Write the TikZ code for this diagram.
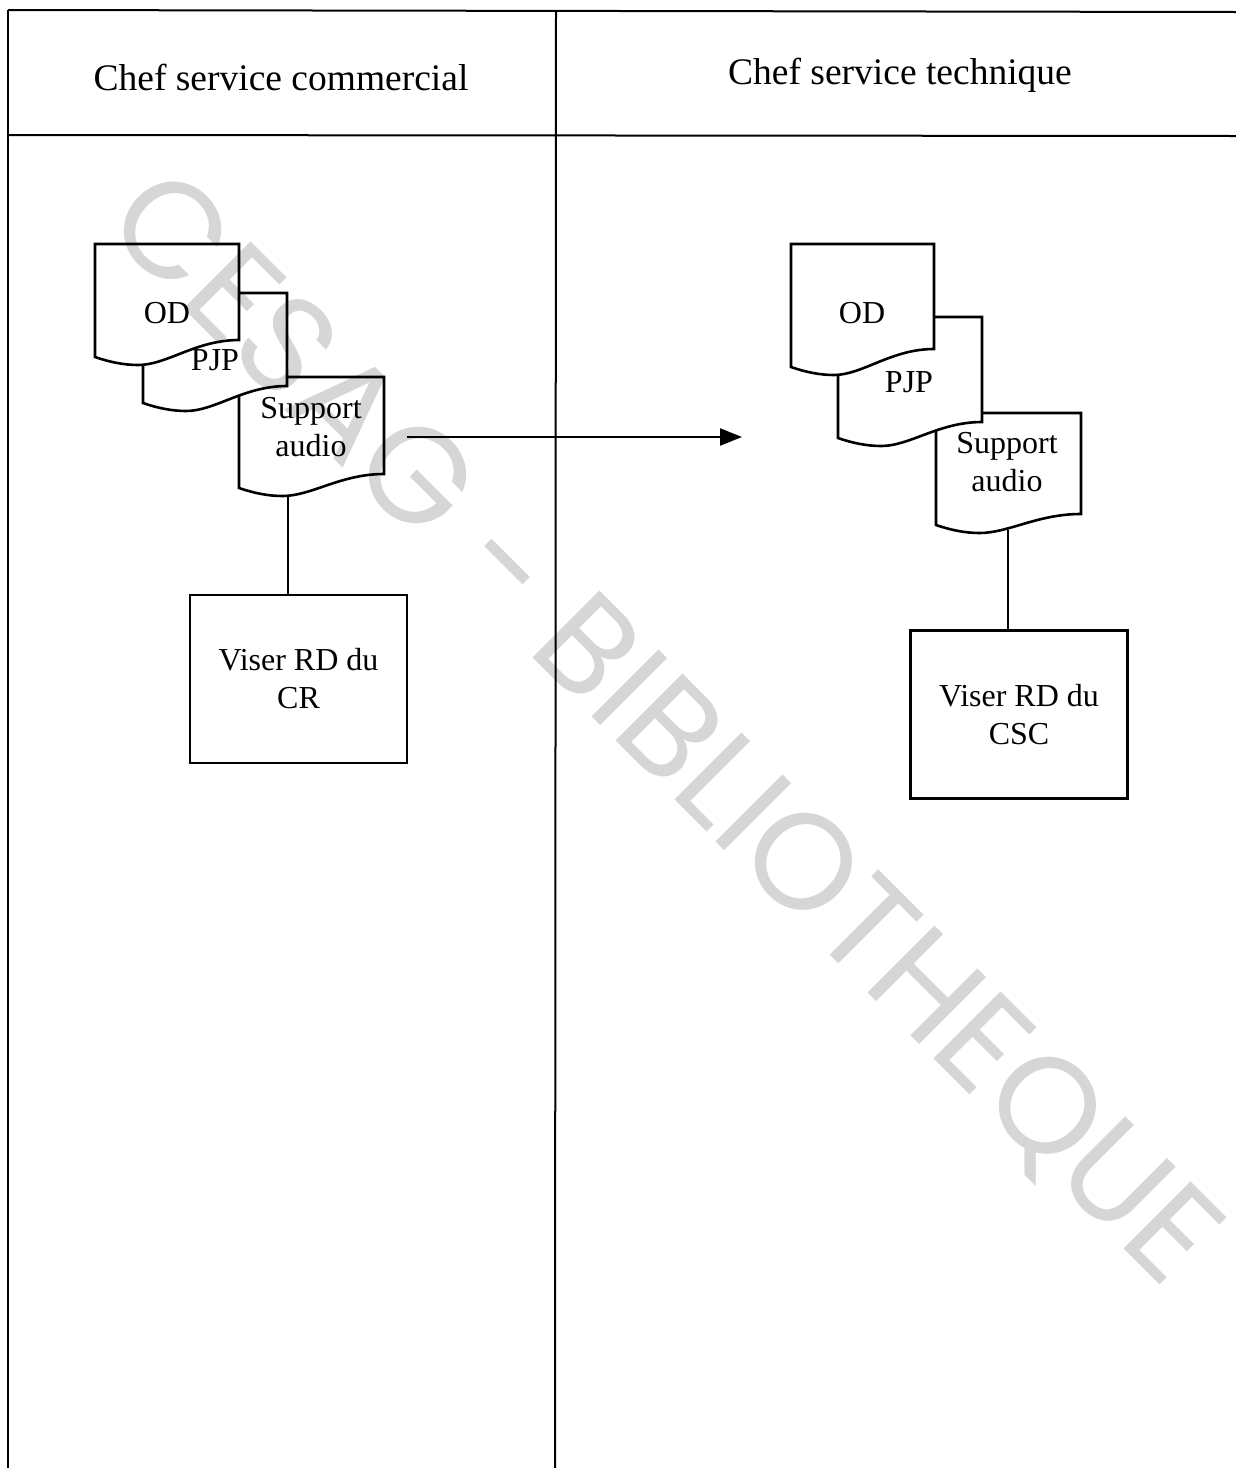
\documentclass[tikz,border=0pt]{standalone}
\usepackage{fontspec}
\setmainfont{Liberation Serif}
\newfontfamily\wmfont{Poppins}
\usetikzlibrary{arrows.meta}

\tikzset{
  lane/.style={line width=2pt},
  docshape/.style={draw=black, fill=white, line width=2.6pt, line join=miter},
  proc/.style={draw=black, line width=2.6pt, minimum width=217pt, minimum height=168pt,
               align=center, inner sep=0pt, font=\fontsize{32}{38}\selectfont},
  lbl/.style={font=\fontsize{32}{37.5}\selectfont, align=center, inner sep=0pt},
  hdr/.style={font=\fontsize{37.5}{44}\selectfont, anchor=base, inner sep=0pt},
  link/.style={line width=2.2pt},
  flow/.style={line width=2.4pt, -{Triangle[length=22pt,width=17pt]}},
  wmark/.style={rotate=-45, text=black, text opacity=0.16, inner sep=0pt,
                font=\wmfont\fontsize{136}{136}\selectfont}
}

% document symbol: left x, right x, top y, bottom-left y, bottom-right y
\newcommand{\docshape}[5]{%
  \pgfmathsetmacro\dw{#2-#1}%
  \draw[docshape] (#1,#3) -- (#2,#3) -- (#2,#5)
    .. controls ({#2-0.3*\dw},#5) and ({#1+0.5*\dw},{#4+8}) .. ({#1+0.3*\dw},{#4+8})
    .. controls ({#1+0.2*\dw},{#4+8}) and ({#1+0.1*\dw},{#4+5}) .. (#1,#4) -- cycle;}

\begin{document}
\begin{tikzpicture}[x=1pt, y=-1pt]
  \useasboundingbox (0,0) rectangle (1236,1468);
  \fill[white] (0,0) rectangle (1236,1468);

  % swimlane frame
  \draw[lane] (8,10) -- (1236,12);
  \draw[lane] (8,135) -- (1236,136);
  \draw[lane] (8,10) -- (8,1468);
  \draw[lane] (556,10) -- (555,1468);

  \node[hdr] (hdrL) at (281,90) {Chef service commercial};
  \node[hdr] (hdrR) at (900,84) {Chef service technique};

  % left lane documents
  \docshape{239}{384}{377}{488}{474}
  \docshape{143}{287}{293}{403}{386}
  \docshape{95}{239}{244}{357}{340}
  \node[lbl] (odL)  at (167,313) {OD};
  \node[lbl] (pjpL) at (215,360) {PJP};
  \node[lbl] (supL) at (311,427) {Support\\audio};
  \coordinate (supLb) at (288,497);

  \node[proc] (visL) at (298.5,679) {Viser RD du\\CR};
  \draw[link] (supLb) -- (supLb |- visL.north);

  % right lane documents
  \docshape{936}{1081}{413}{525}{514}
  \docshape{838}{982}{317}{438}{422}
  \docshape{791}{934}{244}{367}{349}
  \node[lbl] (odR)  at (862,313) {OD};
  \node[lbl] (pjpR) at (909,382) {PJP};
  \node[lbl] (supR) at (1007,462) {Support\\audio};
  \coordinate (supRb) at (1008,530);

  \node[proc] (visR) at (1019,714.5) {Viser RD du\\CSC};
  \draw[link] (supRb) -- (supRb |- visR.north);

  % transfer between lanes
  \coordinate (arrS) at (407,437);
  \coordinate (arrE) at (742,437);
  \draw[flow] (arrS) -- (arrE);

  % watermark
  \node[wmark] (wm) at (661.5,731.5) {CESAG - BIBLIOTHEQUE};
\end{tikzpicture}
\end{document}
